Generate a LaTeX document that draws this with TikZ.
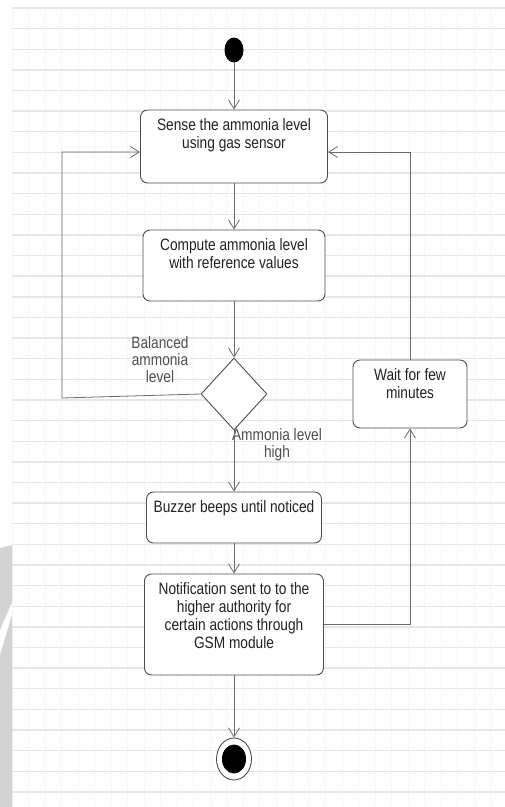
\documentclass[tikz,border=0pt]{standalone}
\usepackage{fontspec}
\setmainfont{Liberation Sans}[FakeStretch=0.83]
\usetikzlibrary{shapes.geometric,arrows.meta}

\definecolor{linegray}{HTML}{6A6A6A}
\definecolor{boxgray}{HTML}{4D4D4D}
\definecolor{textgray}{HTML}{222222}
\definecolor{gridgray}{HTML}{E6E6E6}
\definecolor{gridfaint}{HTML}{F6F6F6}
\definecolor{markgray}{HTML}{D3D3D3}

\tikzstyle{activity} = [rectangle, draw=boxgray, line width=0.9pt, rounded corners=7pt, fill=white, inner xsep=3pt, inner ysep=9pt, text=textgray]
\tikzstyle{initial} = [ellipse, fill=black, minimum width=19pt, minimum height=25pt, inner sep=0pt]
\tikzstyle{final} = [ellipse, draw=boxgray, line width=0.9pt, fill=white, minimum width=35pt, minimum height=42pt, inner sep=0pt, path picture={\fill[black] (path picture bounding box.center) ellipse (12pt and 14.5pt);}]
\tikzstyle{decision} = [diamond, draw=boxgray, line width=0.9pt, fill=white, minimum width=66pt, minimum height=72pt, inner sep=0pt]
\tikzstyle{guard} = [align=center, text=textgray!80, font=\fontsize{16.5}{17}\selectfont]
\tikzstyle{line} = [draw=linegray, line width=0.8pt]

\newcommand{\acttext}[3]{\parbox[t][#1][t]{#2}{\centering #3}}

\begin{document}
\begin{tikzpicture}[x=1pt, y=-1pt, font=\fontsize{16.5}{18}\selectfont, >={Straight Barb[length=9pt,width=11pt]}]

\useasboundingbox (0,0) rectangle (505,807);

% background sheet
\foreach \gx in {0,...,29}
  \draw [gridfaint, line width=0.8pt] ({12+16.5*\gx},8) -- ({12+16.5*\gx},807);
\foreach \gy in {0,...,38}
  \draw [gridgray, line width=1.4pt] (12,{8+20.63*\gy}) -- (505,{8+20.63*\gy});
\fill [markgray] (0,548) -- (12,545) -- (12,602) -- (0,630) -- cycle;
\fill [markgray] (0,655) -- (12,615) -- (12,807) -- (0,807) -- cycle;

\node [initial] (start) at (234,50) {};

\node [activity, node distance=96.5pt, below of=start] (sense) {\acttext{55pt}{181pt}{Sense the ammonia level\\using gas sensor}};

\node [activity, node distance=119pt, below of=sense] (compute) {\acttext{53pt}{176pt}{Compute ammonia level\\with reference values}};

\node [decision, node distance=128.5pt, below of=compute] (dec) {};

\node [activity, node distance=123.5pt, below of=dec] (buzzer) {\acttext{33pt}{169pt}{Buzzer beeps until noticed}};

\node [activity, node distance=107pt, below of=buzzer] (notif) {\acttext{83pt}{173pt}{Notification sent to to the\\higher authority for\\certain actions through\\GSM module}};

\node [final, node distance=134.5pt, below of=notif] (end) {};

\node [activity, node distance=176pt, right of=dec] (wait) {\acttext{50pt}{108pt}{Wait for few\\minutes}};

\node [guard] (balanced) at (160,360) {Balanced\\ammonia\\level};
\node [guard] (high) at (277,445) {Ammonia level\\high};

\coordinate (lbend) at (62,398);

\draw [line, ->] (start) -- (sense);
\draw [line, ->] (sense) -- (compute);
\draw [line, ->] (compute) -- (dec);
\draw [line, ->] (dec) -- (buzzer);
\draw [line, ->] (buzzer) -- (notif);
\draw [line, ->] (notif) -- (end);
\draw [line, ->] (dec.west) -- (lbend) |- ([yshift=-5.5pt]sense.west);
\draw [line, ->] (notif.east) -| (wait.south);
\draw [line, ->] (wait.north) |- ([yshift=-5.5pt]sense.east);

\end{tikzpicture}
\end{document}
